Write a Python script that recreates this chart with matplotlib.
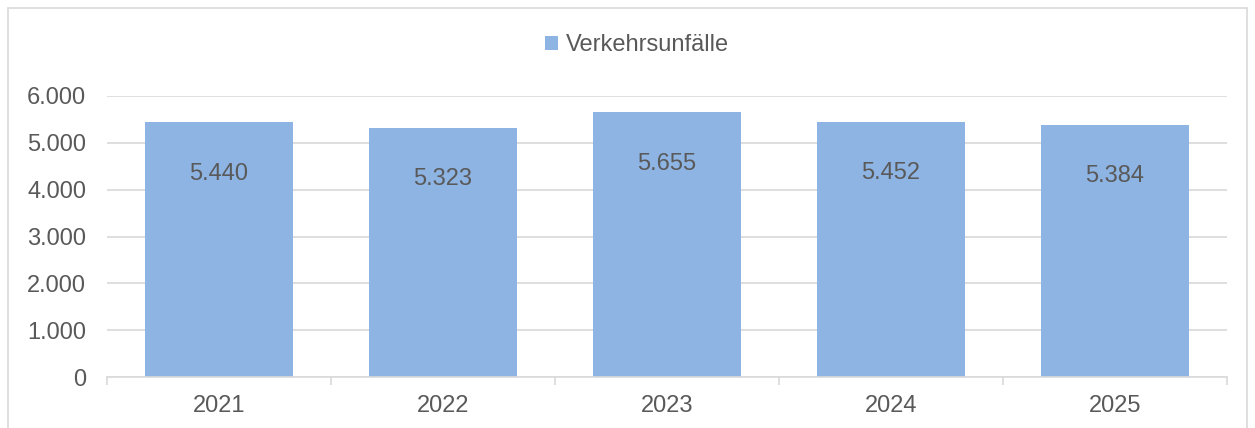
import matplotlib.pyplot as plt
import numpy as np
from matplotlib.patches import Rectangle
from matplotlib.ticker import FuncFormatter, FixedLocator

# Data
years = ["2021", "2022", "2023", "2024", "2025"]
unfaelle = [5440, 5323, 5655, 5452, 5384]
series_name = "Verkehrsunfälle"

BAR_COLOR = "#8EB4E3"
TEXT_COLOR = "#595959"
GRID_COLOR = "#D9D9D9"
FS = 17

plt.rcParams["font.family"] = ["Liberation Sans", "DejaVu Sans"]

fig = plt.figure(figsize=(12.55, 4.28), dpi=100)
ax = fig.add_axes([107 / 1255, 1 - 377 / 428, 1120 / 1255, (377 - 96) / 428])

x = np.arange(len(years))
bars = ax.bar(x, unfaelle, width=0.665, color=BAR_COLOR, label=series_name, zorder=2)

# value labels inside bar end
for xi, v in zip(x, unfaelle):
    ax.annotate(f"{v:,}".replace(",", "."), (xi, v), xytext=(0, -37),
                textcoords="offset points", ha="center", va="center",
                fontsize=FS, color=TEXT_COLOR)

ax.set_xlim(-0.5, len(years) - 0.5)
ax.set_ylim(0, 6000)
ax.set_yticks(np.arange(0, 6001, 1000))
ax.yaxis.set_major_formatter(FuncFormatter(lambda v, p: f"{int(v):,}".replace(",", ".")))
ax.grid(axis="y", color=GRID_COLOR, linewidth=1.2, zorder=0)
ax.set_axisbelow(True)

ax.set_xticks(x)
ax.set_xticklabels(years)
ax.xaxis.set_minor_locator(FixedLocator(np.arange(-0.5, len(years), 1.0)))
ax.tick_params(axis="x", which="major", length=0, pad=13, labelsize=FS, labelcolor=TEXT_COLOR)
ax.tick_params(axis="x", which="minor", length=6, color=GRID_COLOR, width=1.2)
ax.tick_params(axis="y", length=0, pad=15, labelsize=FS, labelcolor=TEXT_COLOR)

for s in ["top", "right", "left"]:
    ax.spines[s].set_visible(False)
ax.spines["bottom"].set_color(GRID_COLOR)
ax.spines["bottom"].set_linewidth(1.2)

fig.legend(loc="center", bbox_to_anchor=(637 / 1255, 1 - 45 / 428), frameon=False,
           fontsize=FS, labelcolor=TEXT_COLOR, handlelength=0.55, handleheight=0.55,
           handletextpad=0.3)

# outer chart border
fig.patches.append(Rectangle((8 / 1255, -0.05), 1239 / 1255, 1.05 - 8 / 428,
                             transform=fig.transFigure, fill=False,
                             edgecolor=GRID_COLOR, linewidth=1.2))

fig.savefig("out.png", dpi=100)
